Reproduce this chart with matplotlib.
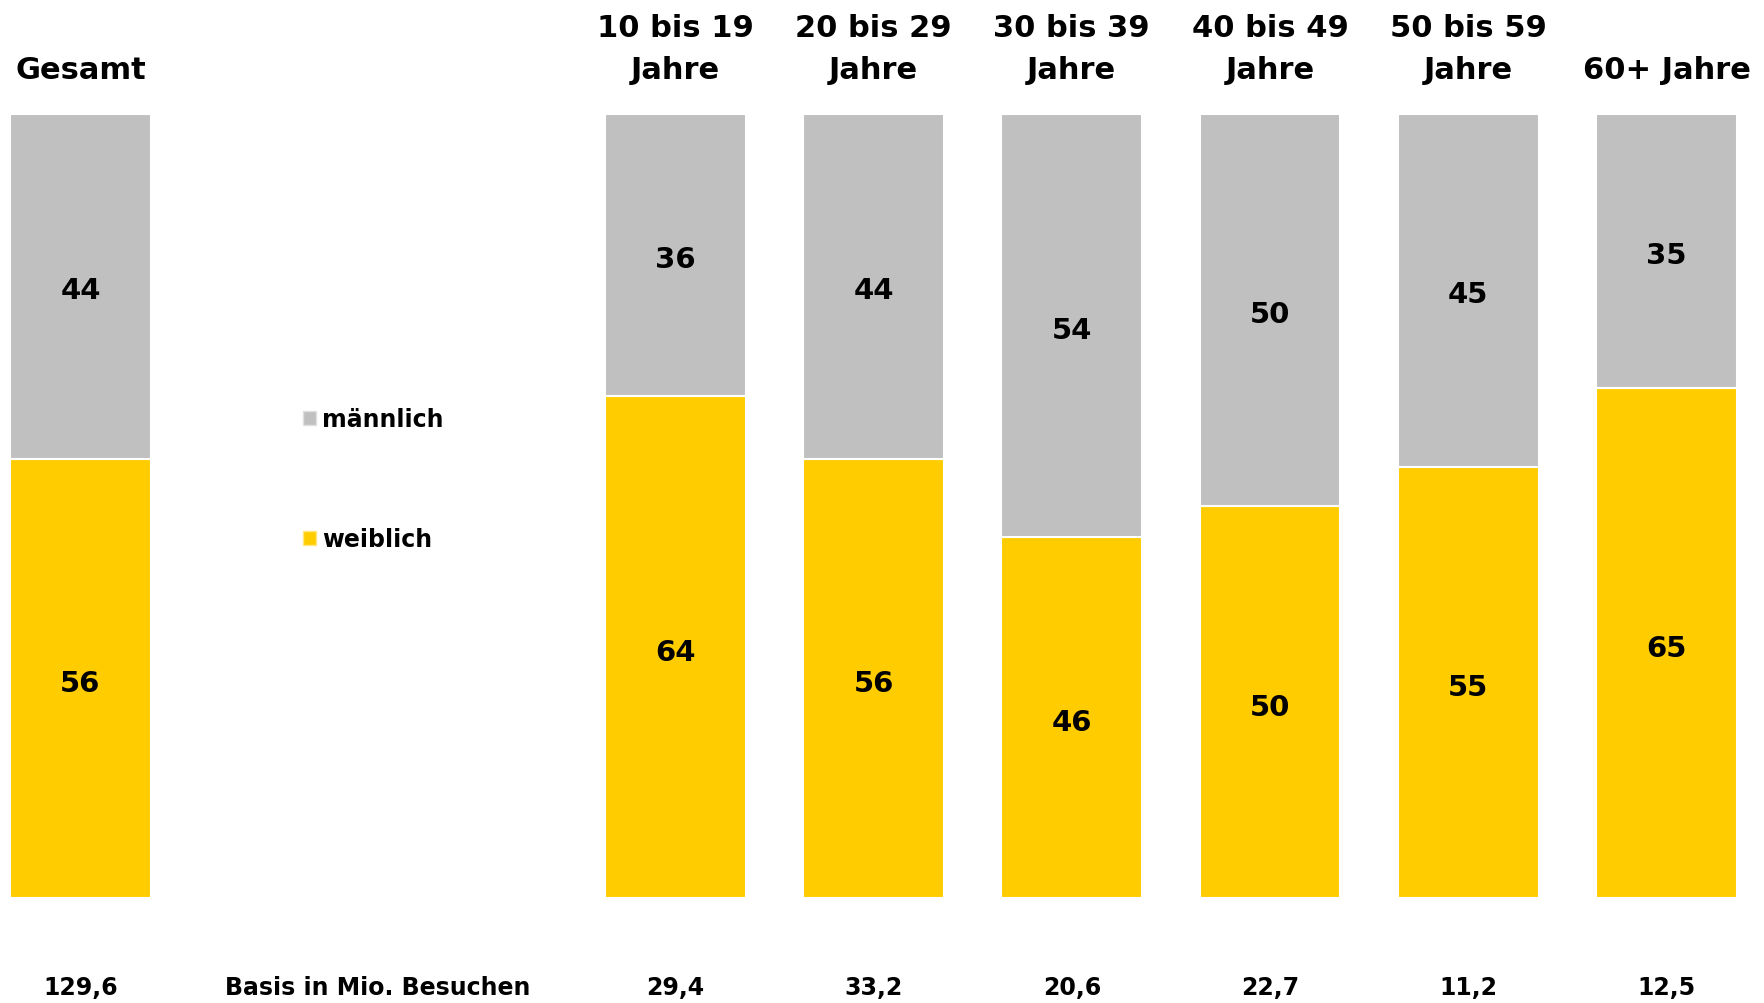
import matplotlib.pyplot as plt
from matplotlib.patches import Patch

# data
groups = ['Gesamt', '10 bis 19\nJahre', '20 bis 29\nJahre', '30 bis 39\nJahre',
          '40 bis 49\nJahre', '50 bis 59\nJahre', '60+ Jahre']
positions = [0, 3, 4, 5, 6, 7, 8]
weiblich = [56, 64, 56, 46, 50, 55, 65]
maennlich = [44, 36, 44, 54, 50, 45, 35]
basis = ['129,6', '29,4', '33,2', '20,6', '22,7', '11,2', '12,5']
basis_label = 'Basis in Mio. Besuchen'

grey = '#C0C0C0'
yellow = '#FFCC00'

plt.rcParams['font.family'] = 'DejaVu Sans'
plt.rcParams['font.weight'] = 'bold'

fig = plt.figure(figsize=(17.64, 10.04), dpi=100)
ax = fig.add_axes([0.0057, 0.1046, 0.9790, 0.7809])

ax.bar(positions, weiblich, width=0.71, color=yellow, edgecolor='white', linewidth=1.5)
ax.bar(positions, maennlich, width=0.71, bottom=weiblich, color=grey, edgecolor='white', linewidth=1.5)

# Werte leicht unter die Segmentmitte, wie im Original
for xi, w, m in zip(positions, weiblich, maennlich):
    ax.text(xi, w / 2 - 0.6, str(w), ha='center', va='center', fontsize=21, fontweight='bold')
    ax.text(xi, w + m / 2 - 0.5, str(m), ha='center', va='center', fontsize=21, fontweight='bold')

# Gruppen oben
for xi, g in zip(positions, groups):
    ax.text(xi, 104.6, g, ha='center', va='baseline', fontsize=22, fontweight='bold',
            linespacing=1.55, clip_on=False)

# Basis unten
for xi, b in zip(positions, basis):
    ax.text(xi, -11.3, b, ha='center', va='center', fontsize=17, fontweight='bold', clip_on=False)
ax.text(1.5, -11.3, basis_label, ha='center', va='center', fontsize=17, fontweight='bold',
        clip_on=False)

ax.set_xlim(-0.355, 8.355)
ax.set_ylim(0, 100)
ax.axis('off')

handles = [Patch(facecolor=grey, edgecolor='#e0e0e0', label='männlich'),
           Patch(facecolor=yellow, edgecolor='#ffe680', label='weiblich')]
fig.legend(handles=handles, loc='upper left', bbox_to_anchor=(0.165, 0.605),
           frameon=False, fontsize=17, handlelength=0.55, handleheight=0.55,
           handletextpad=0.25, labelspacing=4.05, borderpad=0)

fig.savefig('out.png', dpi=100)
